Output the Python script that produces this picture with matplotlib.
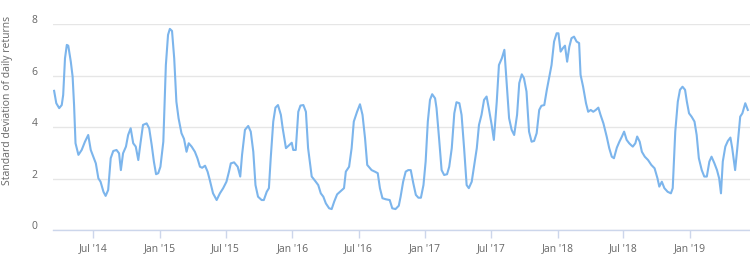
import pandas as pd
import matplotlib.pyplot as plt
import matplotlib.dates as mdates
import matplotlib.transforms as mtransforms

# Dates and standard deviation of daily returns
dates = [
    '2014-03-15', '2014-03-21', '2014-03-29', '2014-04-05', '2014-04-09', '2014-04-14',
    '2014-04-19', '2014-04-23', '2014-04-30', '2014-05-05', '2014-05-09', '2014-05-13',
    '2014-05-21', '2014-05-30', '2014-06-08', '2014-06-17', '2014-06-24', '2014-07-01',
    '2014-07-08', '2014-07-15', '2014-07-21', '2014-07-29', '2014-08-04', '2014-08-11',
    '2014-08-18', '2014-08-25', '2014-09-03', '2014-09-10', '2014-09-15', '2014-09-21',
    '2014-09-29', '2014-10-05', '2014-10-12', '2014-10-19', '2014-10-26', '2014-11-02',
    '2014-11-08', '2014-11-15', '2014-11-25', '2014-12-02', '2014-12-09', '2014-12-15',
    '2014-12-21', '2014-12-27', '2015-01-02', '2015-01-10', '2015-01-17', '2015-01-23',
    '2015-01-28', '2015-02-03', '2015-02-09', '2015-02-15', '2015-02-21', '2015-03-01',
    '2015-03-08', '2015-03-15', '2015-03-21', '2015-03-29', '2015-04-07', '2015-04-14',
    '2015-04-21', '2015-04-27', '2015-05-05', '2015-05-12', '2015-05-18', '2015-05-27',
    '2015-06-06', '2015-06-15', '2015-06-24', '2015-07-03', '2015-07-10', '2015-07-15',
    '2015-07-24', '2015-08-03', '2015-08-10', '2015-08-15', '2015-08-23', '2015-09-01',
    '2015-09-08', '2015-09-15', '2015-09-21', '2015-09-28', '2015-10-08', '2015-10-14',
    '2015-10-22', '2015-10-28', '2015-11-02', '2015-11-09', '2015-11-15', '2015-11-22',
    '2015-11-30', '2015-12-05', '2015-12-14', '2015-12-23', '2015-12-30', '2016-01-03',
    '2016-01-10', '2016-01-17', '2016-01-23', '2016-01-31', '2016-02-07', '2016-02-13',
    '2016-02-23', '2016-03-03', '2016-03-12', '2016-03-19', '2016-03-26', '2016-04-02',
    '2016-04-11', '2016-04-18', '2016-04-25', '2016-05-03', '2016-05-11', '2016-05-22',
    '2016-05-27', '2016-06-05', '2016-06-12', '2016-06-18', '2016-06-27', '2016-07-05',
    '2016-07-12', '2016-07-19', '2016-07-25', '2016-08-06', '2016-08-15', '2016-08-23',
    '2016-08-29', '2016-09-05', '2016-09-14', '2016-09-25', '2016-10-02', '2016-10-11',
    '2016-10-20', '2016-10-25', '2016-11-01', '2016-11-08', '2016-11-15', '2016-11-22',
    '2016-11-29', '2016-12-06', '2016-12-13', '2016-12-20', '2016-12-27', '2017-01-02',
    '2017-01-08', '2017-01-14', '2017-01-20', '2017-01-28', '2017-02-01', '2017-02-08',
    '2017-02-15', '2017-02-22', '2017-03-02', '2017-03-08', '2017-03-15', '2017-03-22',
    '2017-03-28', '2017-04-05', '2017-04-11', '2017-04-18', '2017-04-25', '2017-05-01',
    '2017-05-09', '2017-05-16', '2017-05-23', '2017-05-29', '2017-06-05', '2017-06-12',
    '2017-06-19', '2017-06-25', '2017-07-03', '2017-07-09', '2017-07-17', '2017-07-23',
    '2017-07-31', '2017-08-07', '2017-08-13', '2017-08-20', '2017-08-27', '2017-09-03',
    '2017-09-11', '2017-09-17', '2017-09-24', '2017-09-30', '2017-10-07', '2017-10-14',
    '2017-10-21', '2017-10-28', '2017-11-04', '2017-11-11', '2017-11-17', '2017-11-25',
    '2017-12-02', '2017-12-09', '2017-12-15', '2017-12-22', '2017-12-29', '2018-01-03',
    '2018-01-09', '2018-01-15', '2018-01-21', '2018-01-27', '2018-02-02', '2018-02-08',
    '2018-02-15', '2018-02-22', '2018-03-01', '2018-03-05', '2018-03-12', '2018-03-20',
    '2018-03-26', '2018-04-02', '2018-04-09', '2018-04-16', '2018-04-23', '2018-04-29',
    '2018-05-07', '2018-05-16', '2018-05-23', '2018-05-30', '2018-06-05', '2018-06-13',
    '2018-06-20', '2018-06-27', '2018-07-03', '2018-07-10', '2018-07-17', '2018-07-22',
    '2018-07-27', '2018-08-03', '2018-08-08', '2018-08-15', '2018-08-21', '2018-08-29',
    '2018-09-07', '2018-09-16', '2018-09-25', '2018-10-03', '2018-10-08', '2018-10-15',
    '2018-10-22', '2018-10-31', '2018-11-09', '2018-11-14', '2018-11-21', '2018-11-28',
    '2018-12-04', '2018-12-11', '2018-12-18', '2018-12-23', '2018-12-29', '2019-01-05',
    '2019-01-13', '2019-01-19', '2019-01-25', '2019-02-02', '2019-02-09', '2019-02-16',
    '2019-02-23', '2019-03-01', '2019-03-09', '2019-03-16', '2019-03-22', '2019-03-27',
    '2019-04-01', '2019-04-08', '2019-04-15', '2019-04-22', '2019-04-27', '2019-05-05',
    '2019-05-11', '2019-05-19', '2019-05-25', '2019-06-02', '2019-06-09',
]
std_dev = [
    5.41, 4.93, 4.74, 4.86, 5.25, 6.67, 7.19, 7.16, 6.54, 5.96, 4.86, 3.38,
    2.93, 3.12, 3.44, 3.70, 3.12, 2.86, 2.60, 2.02, 1.89, 1.50, 1.34, 1.57,
    2.80, 3.08, 3.12, 2.99, 2.34, 2.99, 3.25, 3.70, 3.96, 3.38, 3.25, 2.73,
    3.38, 4.09, 4.15, 3.96, 3.31, 2.67, 2.18, 2.22, 2.47, 3.44, 6.41, 7.58,
    7.81, 7.73, 6.67, 4.99, 4.35, 3.77, 3.55, 3.05, 3.38, 3.25, 3.05, 2.80,
    2.47, 2.43, 2.51, 2.28, 1.96, 1.44, 1.18, 1.44, 1.64, 1.89, 2.28, 2.60,
    2.64, 2.47, 2.09, 2.93, 3.90, 4.05, 3.83, 3.05, 1.76, 1.31, 1.18, 1.18,
    1.50, 1.64, 2.80, 4.22, 4.76, 4.86, 4.48, 3.96, 3.19, 3.31, 3.40, 3.12,
    3.12, 4.60, 4.84, 4.86, 4.60, 3.19, 2.09, 1.93, 1.76, 1.44, 1.31, 1.05,
    0.86, 0.83, 1.12, 1.40, 1.50, 1.64, 2.28, 2.47, 3.19, 4.22, 4.60, 4.89,
    4.48, 3.57, 2.54, 2.34, 2.28, 2.22, 1.64, 1.25, 1.21, 1.18, 0.86, 0.83,
    0.96, 1.31, 1.89, 2.28, 2.34, 2.34, 1.83, 1.38, 1.27, 1.27, 1.76, 2.67,
    4.22, 5.06, 5.28, 5.12, 4.74, 3.57, 2.34, 2.15, 2.18, 2.47, 3.19, 4.54,
    4.97, 4.93, 4.48, 3.19, 1.76, 1.64, 1.89, 2.54, 3.19, 4.09, 4.48, 5.06,
    5.19, 4.74, 4.09, 3.51, 4.99, 6.41, 6.67, 7.00, 5.77, 4.35, 3.90, 3.70,
    4.48, 5.71, 6.05, 5.90, 5.38, 3.83, 3.44, 3.47, 3.77, 4.67, 4.83, 4.86,
    5.45, 5.96, 6.41, 7.32, 7.64, 7.64, 6.93, 7.06, 7.16, 6.54, 7.12, 7.45,
    7.51, 7.32, 7.26, 6.03, 5.57, 4.93, 4.60, 4.67, 4.60, 4.67, 4.76, 4.48,
    4.15, 3.64, 3.19, 2.86, 2.80, 3.21, 3.44, 3.64, 3.83, 3.51, 3.38, 3.31,
    3.25, 3.38, 3.64, 3.44, 3.05, 2.86, 2.73, 2.54, 2.41, 2.02, 1.70, 1.89,
    1.64, 1.50, 1.44, 1.64, 3.83, 4.99, 5.45, 5.57, 5.45, 4.99, 4.54, 4.41,
    4.22, 3.70, 2.80, 2.34, 2.09, 2.09, 2.67, 2.86, 2.60, 2.34, 2.02, 1.44,
    2.67, 3.25, 3.47, 3.60, 3.19, 2.34, 3.19, 4.41, 4.54, 4.93, 4.67,
]
y_ticks = [0, 2, 4, 6, 8]

plt.rcParams['font.family'] = ['Open Sans', 'DejaVu Sans']

x = pd.to_datetime(dates)

fig = plt.figure(figsize=(7.5, 2.58), dpi=100)
ax = fig.add_axes([0.0707, 0.1066, 0.9293, 0.8004])

ax.plot(x, std_dev, color='#7cb5ec', linewidth=1.5)

ax.set_ylim(0, 8)
ax.set_yticks(y_ticks)
ax.set_xlim(pd.Timestamp('2014-03-12'), pd.Timestamp('2019-06-15'))
ax.xaxis.set_major_locator(mdates.MonthLocator(bymonth=[1, 7]))
ax.xaxis.set_major_formatter(mdates.DateFormatter("%b '%y"))

ax.grid(True, axis='y', color='#e6e6e6', linewidth=1)
ax.set_axisbelow(True)
for s in ['top', 'right', 'left']:
    ax.spines[s].set_visible(False)
ax.spines['bottom'].set_color('#ccd6eb')
ax.spines['bottom'].set_linewidth(1)

ax.tick_params(axis='x', colors='#ccd6eb', length=6, width=1, pad=3, labelcolor='#666666', labelsize=7.5)
ax.tick_params(axis='y', length=0, pad=11, labelcolor='#666666', labelsize=7.5)

# y labels sit a little above their grid lines
shift = mtransforms.ScaledTranslation(0, 0.05, fig.dpi_scale_trans)
for lbl in ax.get_yticklabels():
    lbl.set_transform(lbl.get_transform() + shift)

ax.set_ylabel('Standard deviation of daily returns', color='#666666', fontsize=7.5)
ax.yaxis.set_label_coords(-0.0574, 0.629)

plt.savefig('out.png', dpi=100)
